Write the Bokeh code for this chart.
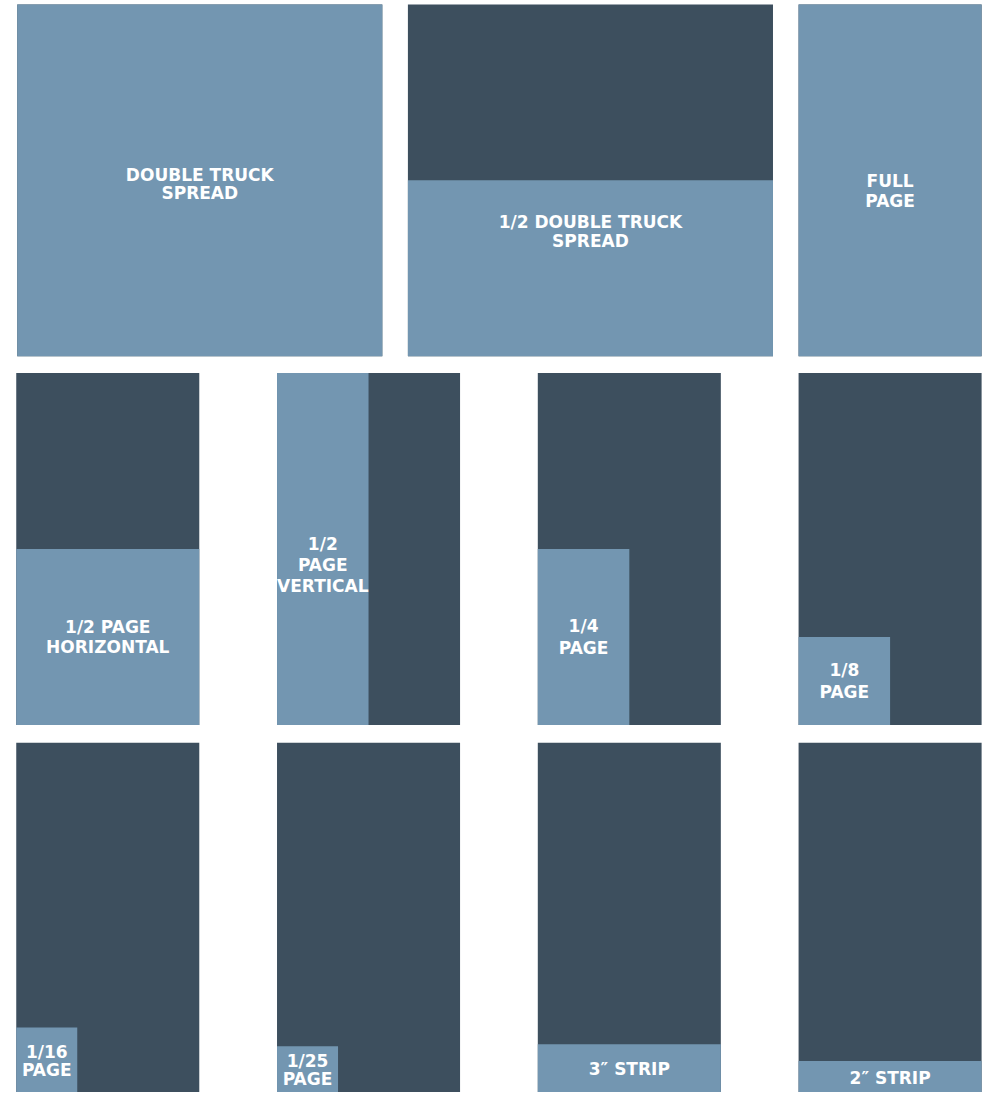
from bokeh.plotting import figure
from bokeh.models import Range1d
from bokeh.core.properties import value
from bokeh.embed import file_html
from bokeh.resources import INLINE

# ---- data: ad units, their panel (page) size and the ad's share of it ----
labels = ["DOUBLE TRUCK\nSPREAD", "1/2 DOUBLE TRUCK\nSPREAD", "FULL\nPAGE",
          "1/2 PAGE\nHORIZONTAL", "1/2\nPAGE\nVERTICAL", "1/4\nPAGE", "1/8\nPAGE",
          "1/16\nPAGE", "1/25\nPAGE", "3\u2033 STRIP", "2\u2033 STRIP"]
panel_pages = [2, 2, 1, 1, 1, 1, 1, 1, 1, 1, 1]        # panel width in pages
ad_width_share = [1, 1, 1, 1, 0.5, 0.5, 0.5, 1/3, 1/3, 1, 1]
ad_height_share = [1, 0.5, 1, 0.5, 1, 0.5, 0.25, 0.19, 0.137, 0.143, 0.095]

# ---- layout (style) ----
grid_row = [0, 0, 0, 1, 1, 1, 1, 2, 2, 2, 2]
grid_col = [0, 1, 2, 0, 1, 2, 3, 0, 1, 2, 3]
row_tops = [4, 378, 753]
row1_lefts = [17, 414, 811]
grid_lefts = [16, 281, 546, 811]
PAGE_W, SPREAD_W, PAGE_H = 186, 371, 357
label_pos = [0.51, 0.29, 0.53, 0.5, 0.546, 0.5, 0.5, 0.5, 0.5, 0.5, 0.5]
line_gap = [18, 19, 21, 21, 21, 22, 22, 18, 18, 0, 0]
LIGHT, DARK = "#7396B1", "#3D4F5E"

pl, pr, pt, pb = [], [], [], []
al, ar, at, ab = [], [], [], []
tx, ty, tt = [], [], []
for i in range(len(labels)):
    r, c = grid_row[i], grid_col[i]
    left = row1_lefts[c] if r == 0 else grid_lefts[c]
    w = SPREAD_W if panel_pages[i] == 2 else PAGE_W
    top = row_tops[r]
    bottom = top + PAGE_H
    pl.append(left); pr.append(left + w); pt.append(top); pb.append(bottom)
    aw = ad_width_share[i] * w
    ah = ad_height_share[i] * PAGE_H
    al.append(left); ar.append(left + aw); at.append(bottom - ah); ab.append(bottom)
    cx = left + aw / 2
    cy = bottom - ah + label_pos[i] * ah
    lines = labels[i].split("\n")
    n = len(lines)
    for k, ln in enumerate(lines):
        tx.append(cx)
        ty.append(cy + (k - (n - 1) / 2) * line_gap[i])
        tt.append(ln)

p = figure(width=988, height=1092, output_backend="svg", toolbar_location=None,
           x_range=Range1d(0, 1004), y_range=Range1d(1108, 0),
           min_border=0, min_border_left=0, min_border_right=0,
           min_border_top=0, min_border_bottom=0)
p.axis.visible = False
p.grid.visible = False
p.outline_line_color = None
p.background_fill_color = "white"
p.border_fill_color = "white"

p.quad(left=pl, right=pr, top=pt, bottom=pb, fill_color=DARK, line_color=None)
p.quad(left=al, right=ar, top=at, bottom=ab, fill_color=LIGHT, line_color=None)
p.text(x=tx, y=ty, text=tt, text_color="white", text_font=value("DejaVu Sans"),
       text_font_style="bold", text_font_size="17px", text_align="center",
       text_baseline="middle")

open("out.html", "w").write(file_html(p, INLINE))
